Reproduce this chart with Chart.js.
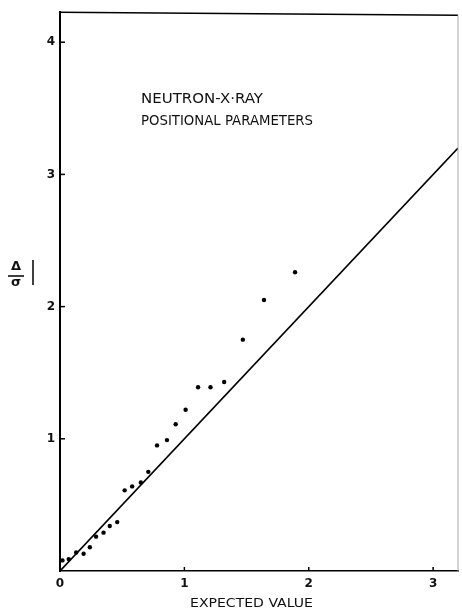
<!DOCTYPE html>
<html>
<head>
<meta charset="utf-8">
<script src="https://cdn.jsdelivr.net/npm/chart.js@4.4.1/dist/chart.umd.min.js"></script>
<style>
  html, body { margin: 0; padding: 0; background: #fff; }
  canvas { display: block; }
</style>
</head>
<body>
<canvas id="chart" width="462" height="612"></canvas>
<script>
// Data
const expected = [0.02, 0.07, 0.13, 0.19, 0.24, 0.29, 0.35, 0.40, 0.46, 0.52, 0.58, 0.65, 0.71,
                  0.78, 0.86, 0.93, 1.01, 1.11, 1.21, 1.32, 1.47, 1.64, 1.89];
const deviation = [0.08, 0.09, 0.14, 0.13, 0.18, 0.26, 0.29, 0.34, 0.37, 0.61, 0.64, 0.67, 0.75,
                   0.95, 0.99, 1.11, 1.22, 1.39, 1.39, 1.43, 1.75, 2.05, 2.26];
const refLineX = [0, 3.2];
const refLineY = [0, 3.2];
const xTicks = [0, 1, 2, 3];
const yTicks = [1, 2, 3, 4];

const ctx = document.getElementById("chart").getContext("2d");

// frame, inner ticks and hand-lettered texts
const decorations = {
    id: "decorations",
    afterDraw(chart) {
        const c = chart.ctx;
        const a = chart.chartArea;
        const xs = chart.scales.x, ys = chart.scales.y;
        c.save();
        c.strokeStyle = "#000";
        c.lineWidth = 1.5;
        c.beginPath();
        c.moveTo(a.left - 1, a.top);
        c.lineTo(a.right, a.top + 3);
        c.stroke();
        c.strokeStyle = "#aaa";
        c.lineWidth = 1;
        c.beginPath();
        c.moveTo(a.right, a.top + 3);
        c.lineTo(a.right, a.bottom);
        c.stroke();

        c.strokeStyle = "#000";
        c.lineWidth = 1.5;
        yTicks.forEach(v => {
            const py = ys.getPixelForValue(v);
            c.beginPath();
            c.moveTo(a.left, py);
            c.lineTo(a.left + 5, py);
            c.stroke();
        });
        xTicks.slice(1).forEach(v => {
            const px = xs.getPixelForValue(v);
            c.beginPath();
            c.moveTo(px, a.bottom);
            c.lineTo(px, a.bottom - 4);
            c.stroke();
        });

        function fitText(txt, x, y, w, font) {
            c.font = font;
            const m = c.measureText(txt).width;
            c.save();
            c.translate(x, y);
            c.scale(w / m, 1);
            c.fillText(txt, 0, 0);
            c.restore();
        }
        c.fillStyle = "#111";
        c.textBaseline = "middle";
        c.textAlign = "left";
        fitText("NEUTRON-X·RAY", 141, 99, 122, "14px 'DejaVu Sans'");
        fitText("POSITIONAL PARAMETERS", 141, 121, 172, "14px 'DejaVu Sans'");
        fitText("EXPECTED VALUE", 190, 604, 123, "13px 'DejaVu Sans'");

        // y axis label |Δ/σ|
        c.textAlign = "center";
        c.font = "bold 13px 'DejaVu Sans'";
        c.fillText("Δ", 16, 267);
        c.fillText("σ", 16, 283);
        c.lineWidth = 1.5;
        c.beginPath();
        c.moveTo(8, 276);
        c.lineTo(24, 276);
        c.stroke();
        c.beginPath();
        c.moveTo(33, 260);
        c.lineTo(33, 285);
        c.stroke();
        c.restore();
    }
};

new Chart(ctx, {
    type: "scatter",
    data: {
        datasets: [{
            data: expected.map((x, i) => ({ x: x, y: deviation[i] })),
            backgroundColor: "#000",
            borderWidth: 0,
            pointRadius: 2.2,
        }, {
            type: "line",
            data: refLineX.map((x, i) => ({ x: x, y: refLineY[i] })),
            borderColor: "#000",
            borderWidth: 1.6,
            pointRadius: 0,
            fill: false,
        }],
    },
    options: {
        responsive: false,
        animation: false,
        layout: { padding: { top: 12, right: 2, left: 0, bottom: 0 } },
        plugins: { legend: { display: false }, tooltip: { enabled: false } },
        scales: {
            x: {
                type: "linear",
                min: 0,
                max: 3.2,
                afterBuildTicks: s => { s.ticks = xTicks.map(v => ({ value: v })); },
                afterFit: s => { s.height = 41; },
                grid: { drawOnChartArea: false, drawTicks: false },
                border: { color: "#000", width: 1.6 },
                ticks: {
                    padding: 6,
                    color: "#111",
                    font: { family: "DejaVu Sans", size: 12, weight: "bold" },
                },
            },
            y: {
                type: "linear",
                min: 0,
                max: 4.227,
                afterBuildTicks: s => { s.ticks = yTicks.map(v => ({ value: v })); },
                afterFit: s => { s.width = 60; },
                grid: { drawOnChartArea: false, drawTicks: false },
                border: { color: "#000", width: 2 },
                ticks: {
                    padding: 5,
                    color: "#111",
                    font: { family: "DejaVu Sans", size: 12, weight: "bold" },
                },
            },
        },
    },
    plugins: [decorations],
});
</script>
</body>
</html>
